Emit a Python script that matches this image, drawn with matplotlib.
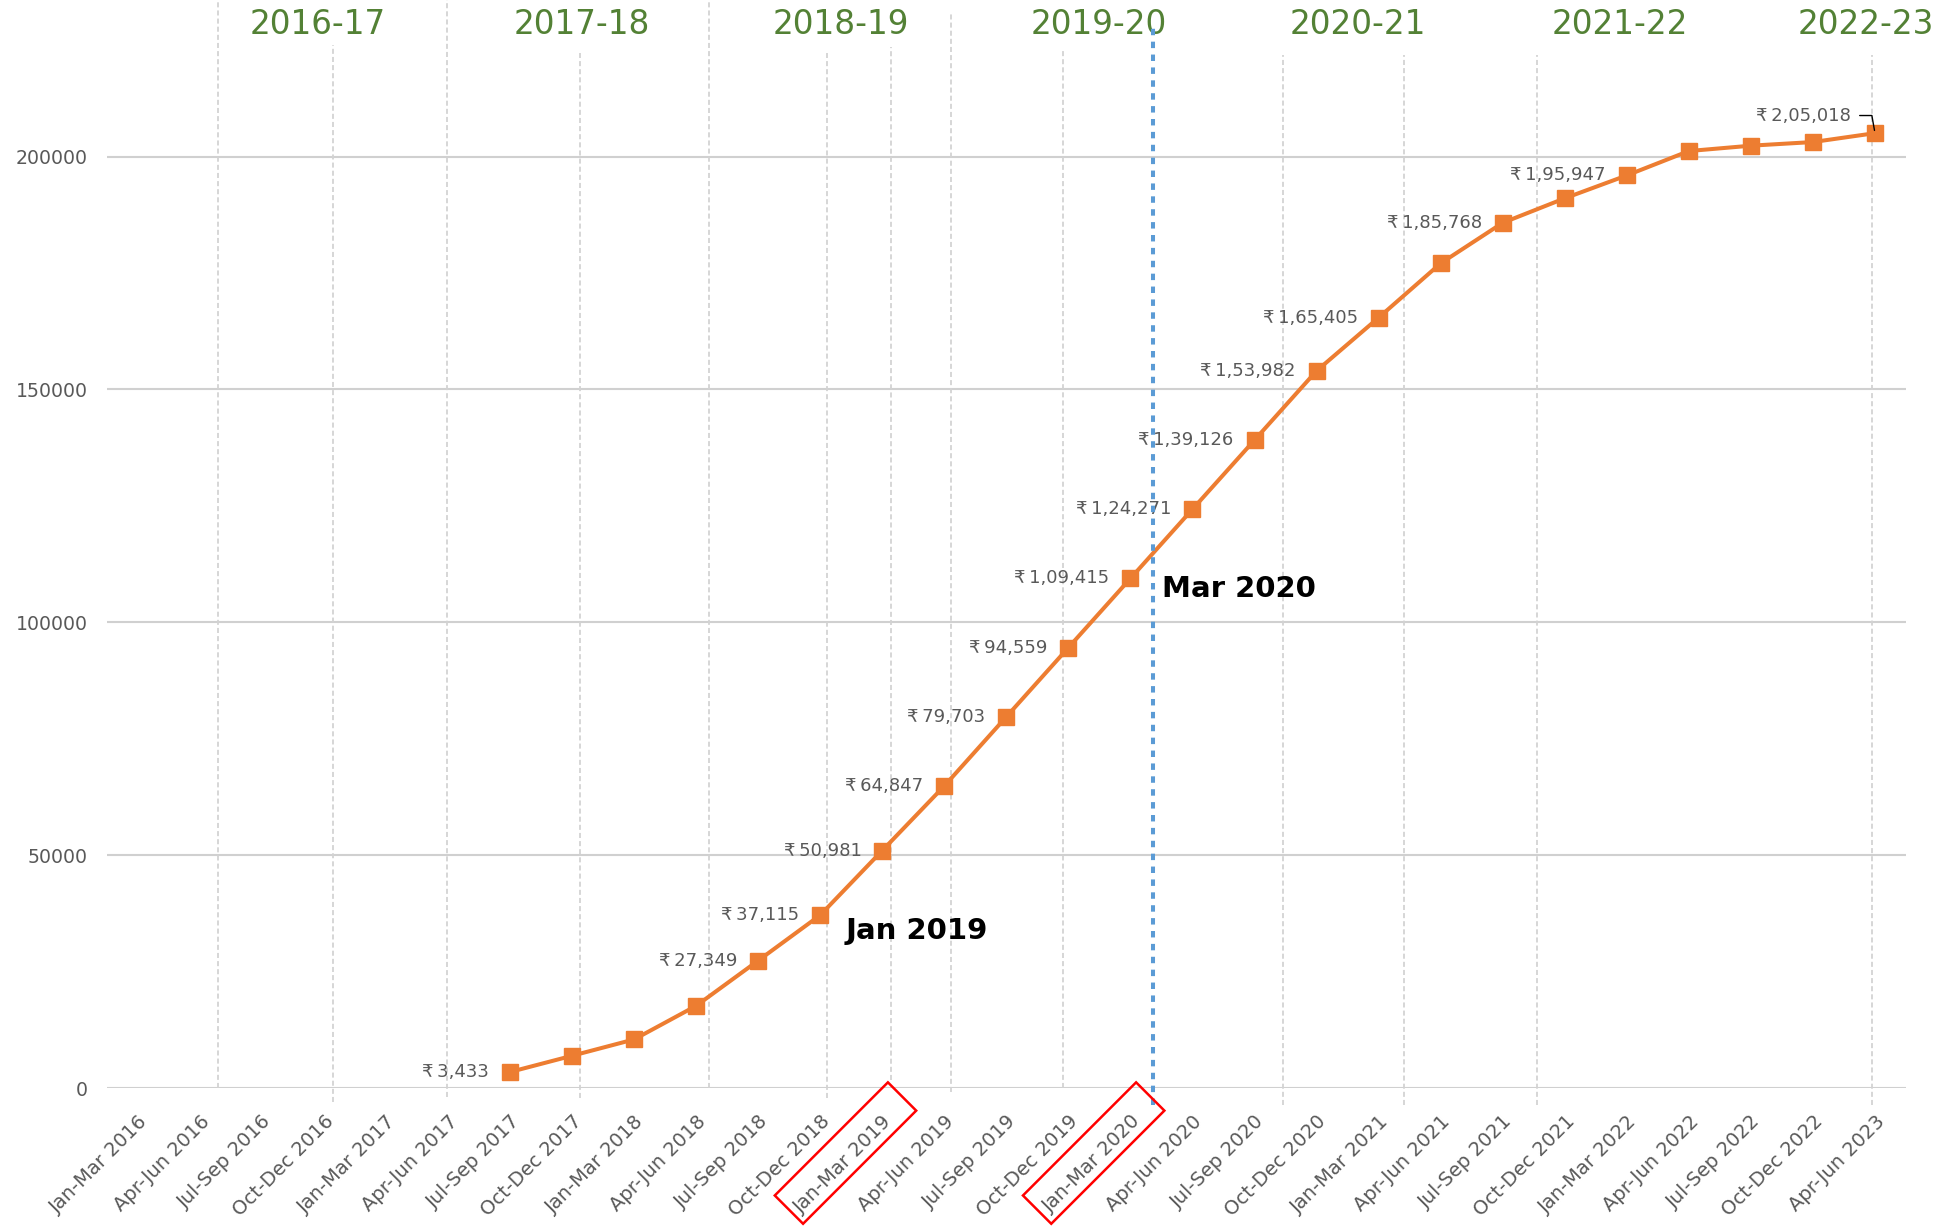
import matplotlib
matplotlib.use("Agg")
import matplotlib.pyplot as plt
from matplotlib.patches import Polygon
from matplotlib import transforms
import numpy as np

# ---------------------------------------------------------------------------
# data
# ---------------------------------------------------------------------------
quarters = ["Jan-Mar 2016", "Apr-Jun 2016", "Jul-Sep 2016", "Oct-Dec 2016",
            "Jan-Mar 2017", "Apr-Jun 2017", "Jul-Sep 2017", "Oct-Dec 2017",
            "Jan-Mar 2018", "Apr-Jun 2018", "Jul-Sep 2018", "Oct-Dec 2018",
            "Jan-Mar 2019", "Apr-Jun 2019", "Jul-Sep 2019", "Oct-Dec 2019",
            "Jan-Mar 2020", "Apr-Jun 2020", "Jul-Sep 2020", "Oct-Dec 2020",
            "Jan-Mar 2021", "Apr-Jun 2021", "Jul-Sep 2021", "Oct-Dec 2021",
            "Jan-Mar 2022", "Apr-Jun 2022", "Jul-Sep 2022", "Oct-Dec 2022",
            "Apr-Jun 2023"]

# series runs from Jul-Sep 2017 to the last quarter
series_start = "Jul-Sep 2017"
values = [3433, 6920, 10430, 17640, 27349, 37115, 50981, 64847, 79703, 94559,
          109415, 124271, 139126, 153982, 165405, 177070, 185768, 191030,
          195947, 201180, 202330, 203110, 205018]

labelled = ["Jul-Sep 2017", "Jul-Sep 2018", "Oct-Dec 2018", "Jan-Mar 2019",
            "Apr-Jun 2019", "Jul-Sep 2019", "Oct-Dec 2019", "Jan-Mar 2020",
            "Apr-Jun 2020", "Jul-Sep 2020", "Oct-Dec 2020", "Jan-Mar 2021",
            "Jul-Sep 2021", "Jan-Mar 2022", "Apr-Jun 2023"]

fin_years = ["2016-17", "2017-18", "2018-19", "2019-20", "2020-21", "2021-22", "2022-23"]
highlight = ["Jan-Mar 2019", "Jan-Mar 2020"]

yticks = [0, 50000, 100000, 150000, 200000]

# ---------------------------------------------------------------------------
# layout helpers (positions in category units / axes fraction)
# ---------------------------------------------------------------------------
fy_x = [2.9, 7.15, 11.33, 15.49, 19.67, 23.89, 27.85]
sep_x = [1.29, 3.15, 4.98, 7.13, 9.21, 11.11, 12.14, 13.11, 14.91, 18.46, 20.41, 22.56, 27.95]
sep_top = [1.053, 1.010, 1.053, 1.002, 1.053, 1.002, 1.008, 1.042, 1.007, 1.0, 1.0, 1.0, 1.0]
sep_bot = [0.0, -0.014, -0.009, -0.010, 0.0, -0.010, 0.008, -0.004, 0.0, -0.016, -0.016, -0.016, -0.016]

ORANGE = "#ED7D31"
GREY_TXT = "#595959"
GREEN = "#538135"


def indian_fmt(v):
    s = str(int(v))
    if len(s) <= 3:
        return s
    head, tail = s[:-3], s[-3:]
    parts = []
    while len(head) > 2:
        parts.insert(0, head[-2:])
        head = head[:-2]
    if head:
        parts.insert(0, head)
    return ",".join(parts + [tail])


W, H, DPI = 1947, 1226, 100
fig = plt.figure(figsize=(W / DPI, H / DPI), dpi=DPI)
ax = fig.add_axes([106.7 / W, 138 / H, (1906 - 106.7) / W, (1088 - 55) / H])

xs = np.arange(len(quarters))
start = quarters.index(series_start)
px = xs[start:start + len(values)]

ax.set_xlim(-0.5, len(quarters) - 0.5)
ax.set_ylim(0, 221800)

# horizontal grid
ax.set_yticks(yticks)
ax.set_yticklabels([str(v) for v in yticks], fontsize=13.6, color=GREY_TXT)
ax.yaxis.grid(True, color="#D0D0D0", lw=1.5)
ax.set_axisbelow(True)
for sp in ax.spines.values():
    sp.set_visible(False)
ax.tick_params(axis="y", length=0, pad=13.5)

ax.set_xticks(xs)
ax.set_xticklabels(quarters, rotation=45, ha="right", va="top",
                   rotation_mode="anchor", fontsize=14, color=GREY_TXT)
ax.tick_params(axis="x", length=0, pad=17)

# dashed separators
xtr = ax.get_xaxis_transform()
for x, t, b in zip(sep_x, sep_top, sep_bot):
    ax.plot([x, x], [b, t], transform=xtr, color="#D3D3D3", lw=1.3,
            ls=(0, (2.8, 1.7)), clip_on=False, zorder=1)

# main series
ax.plot(px, values, color=ORANGE, lw=2.9, marker="s", markersize=11,
        markerfacecolor=ORANGE, markeredgecolor=ORANGE, zorder=3)

# data labels
for q, x, v in zip(quarters[start:], px, values):
    if q not in labelled:
        continue
    txt = "\u20b9\u2009" + indian_fmt(v)
    if x == px[-1]:
        ax.annotate(txt, xy=(x, v), xytext=(-17, 12.7), textcoords="offset points",
                    ha="right", va="center", fontsize=13, color=GREY_TXT,
                    arrowprops=dict(arrowstyle="-", color="black", lw=1.0,
                                    shrinkA=4, shrinkB=2,
                                    connectionstyle="angle,angleA=0,angleB=100,rad=0"))
    else:
        ax.annotate(txt, xy=(x, v), xytext=(-15, 0), textcoords="offset points",
                    ha="right", va="center", fontsize=13, color=GREY_TXT)

# Mar 2020 marker line
ax.plot([16.37, 16.37], [-0.016, 1.027], transform=xtr, color="#5B9BD5", lw=2.9,
        ls=(0, (1.6, 1.6)), clip_on=False, zorder=4)

ax.text(11.41, 33700, "Jan 2019", fontsize=21, fontweight="bold", color="black",
        ha="left", va="center")
ax.text(16.51, 107100, "Mar 2020", fontsize=21, fontweight="bold", color="black",
        ha="left", va="center")

# financial-year headings
for x, lab in zip(fy_x, fin_years):
    ax.text(x, 1.030, lab, transform=xtr, fontsize=23.5, color=GREEN,
            ha="center", va="center", clip_on=False)

# red boxes around highlighted tick labels (display pixels, y up)
u = np.array([-0.7071, -0.7071])
v = np.array([0.7071, -0.7071])
for q in highlight:
    o = ax.transData.transform((quarters.index(q), 0))
    corners = [o + u * a + v * b for a, b in [(-8, 0), (-8, 40), (152, 40), (152, 0)]]
    poly = Polygon(corners, closed=True, fill=False, edgecolor="#FF0000", lw=1.8,
                   transform=transforms.IdentityTransform())
    fig.add_artist(poly)

fig.savefig("out.png", dpi=DPI)
